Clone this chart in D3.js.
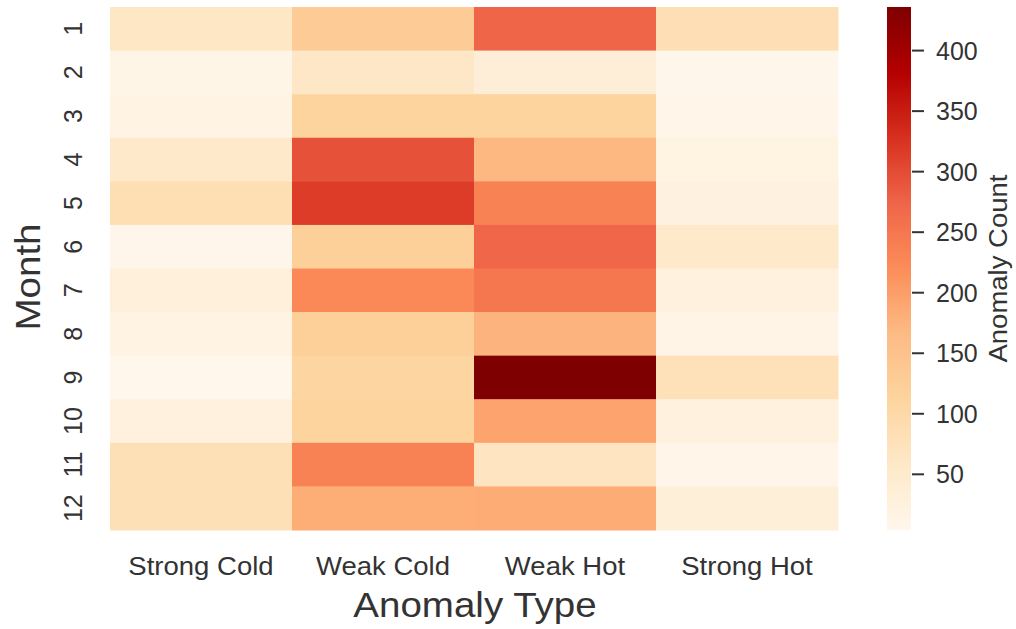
<!DOCTYPE html>
<html>
<head>
<meta charset="utf-8">
<script src="https://cdn.jsdelivr.net/npm/d3@7"></script>
<style>
  html, body { margin: 0; padding: 0; background: #ffffff; }
  svg { display: block; }
  text { font-family: "Liberation Sans", Arial, sans-serif; fill: #333333; }
</style>
</head>
<body>
<svg id="chart" width="1016" height="629"></svg>
<script>
// Monthly anomaly counts by anomaly type
const months = ["1", "2", "3", "4", "5", "6", "7", "8", "9", "10", "11", "12"];
const anomalyTypes = ["Strong Cold", "Weak Cold", "Weak Hot", "Strong Hot"];

const strongCold = [62, 11, 18, 55, 85, 6, 30, 17, 4, 27, 80, 80];
const weakCold   = [131, 60, 113, 294, 316, 120, 226, 120, 109, 112, 235, 183];
const weakHot    = [274, 36, 112, 170, 235, 272, 250, 175, 436, 194, 68, 184];
const strongHot  = [82, 6, 9, 20, 24, 54, 27, 14, 77, 27, 8, 33];

const colorbarTicks = [50, 100, 150, 200, 250, 300, 350, 400];

const seriesByType = [strongCold, weakCold, weakHot, strongHot];

const cells = [];
anomalyTypes.forEach((type, c) => {
  months.forEach((m, r) => {
    cells.push({ type, month: m, value: seriesByType[c][r] });
  });
});

const svg = d3.select("#chart");

const plot = { left: 110, right: 838, top: 7, bottom: 530 };
const cbar = { left: 887, right: 911 };

const x = d3.scaleBand().domain(anomalyTypes).range([plot.left, plot.right]);
const y = d3.scaleBand().domain(months).range([plot.top, plot.bottom]);

const allValues = cells.map(d => d.value);
const vmin = d3.min(allValues), vmax = d3.max(allValues);

// OrRd ramp, linearly interpolated between the nine ColorBrewer stops
const ramp = d3.schemeOrRd[9];
const color = d3.scaleLinear()
  .domain(ramp.map((_, i) => vmin + i * (vmax - vmin) / (ramp.length - 1)))
  .range(ramp)
  .interpolate(d3.interpolateRgb)
  .clamp(true);

// Heatmap cells
svg.append("g")
  .selectAll("rect")
  .data(cells)
  .join("rect")
  .attr("x", d => x(d.type))
  .attr("y", d => y(d.month))
  .attr("width", x.bandwidth() + 0.5)
  .attr("height", y.bandwidth() + 0.5)
  .attr("fill", d => color(d.value));

// Widen word labels slightly to follow the figure's type
function stretch(sel, k) {
  sel.each(function () {
    const len = this.getComputedTextLength();
    d3.select(this).attr("textLength", len * k).attr("lengthAdjust", "spacingAndGlyphs");
  });
}

// Row labels (months), rotated
svg.append("g")
  .selectAll("text")
  .data(months)
  .join("text")
  .attr("transform", d => `translate(82,${y(d) + y.bandwidth() / 2}) rotate(-90)`)
  .attr("text-anchor", "middle")
  .style("font-size", "25px")
  .text(d => d);

// Column labels
svg.append("g")
  .selectAll("text")
  .data(anomalyTypes)
  .join("text")
  .attr("x", d => x(d) + x.bandwidth() / 2)
  .attr("y", 575)
  .attr("text-anchor", "middle")
  .style("font-size", "25px")
  .text(d => d)
  .call(stretch, 1.1);

// Axis titles
svg.append("text")
  .attr("x", (plot.left + plot.right) / 2 + 1)
  .attr("y", 617)
  .attr("text-anchor", "middle")
  .style("font-size", "35px")
  .text("Anomaly Type")
  .call(stretch, 1.1);

svg.append("text")
  .attr("transform", `translate(40,277) rotate(-90)`)
  .attr("text-anchor", "middle")
  .style("font-size", "35px")
  .text("Month")
  .call(stretch, 1.1);

// Colorbar
const cy = d3.scaleLinear().domain([vmin, vmax]).range([plot.bottom, plot.top]);

const defs = svg.append("defs");
const grad = defs.append("linearGradient")
  .attr("id", "cbar-grad")
  .attr("x1", 0).attr("y1", 1).attr("x2", 0).attr("y2", 0);
grad.selectAll("stop")
  .data(d3.range(0, 1.0001, 1 / 64))
  .join("stop")
  .attr("offset", d => d)
  .attr("stop-color", d => color(vmin + d * (vmax - vmin)));

svg.append("rect")
  .attr("x", cbar.left)
  .attr("y", plot.top)
  .attr("width", cbar.right - cbar.left)
  .attr("height", plot.bottom - plot.top)
  .attr("fill", "url(#cbar-grad)");

const cbAxis = svg.append("g");
cbAxis.selectAll("line")
  .data(colorbarTicks)
  .join("line")
  .attr("x1", cbar.right + 1)
  .attr("x2", cbar.right + 13)
  .attr("y1", d => cy(d))
  .attr("y2", d => cy(d))
  .attr("stroke", "#333333")
  .attr("stroke-width", 2);

cbAxis.selectAll("text")
  .data(colorbarTicks)
  .join("text")
  .attr("x", cbar.right + 25)
  .attr("y", d => cy(d))
  .attr("dy", "0.36em")
  .style("font-size", "25px")
  .text(d => d);

svg.append("text")
  .attr("transform", `translate(1007,${(plot.top + plot.bottom) / 2}) rotate(-90)`)
  .attr("text-anchor", "middle")
  .style("font-size", "25px")
  .text("Anomaly Count")
  .call(stretch, 1.1);
</script>
</body>
</html>
